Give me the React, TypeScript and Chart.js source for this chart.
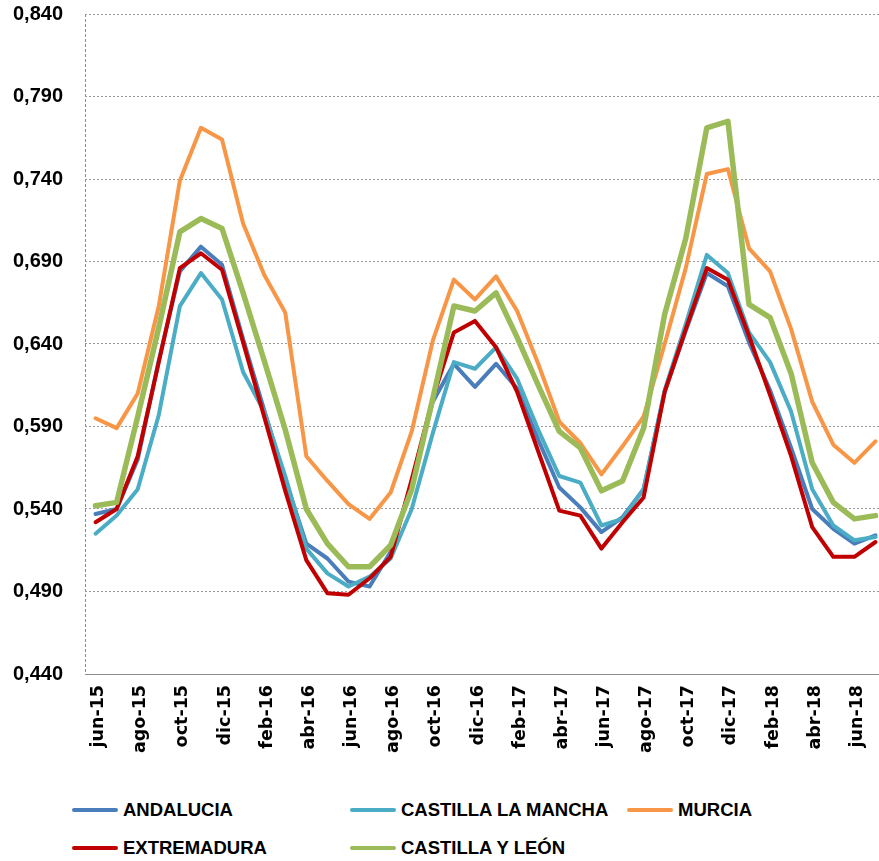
import React, { useEffect, useRef } from 'react';
import { Chart, registerables } from 'chart.js';

Chart.register(...registerables);

// ---- Data ----
const months = [
  'jun-15', 'jul-15', 'ago-15', 'sep-15', 'oct-15', 'nov-15', 'dic-15',
  'ene-16', 'feb-16', 'mar-16', 'abr-16', 'may-16', 'jun-16', 'jul-16', 'ago-16', 'sep-16', 'oct-16', 'nov-16', 'dic-16',
  'ene-17', 'feb-17', 'mar-17', 'abr-17', 'may-17', 'jun-17', 'jul-17', 'ago-17', 'sep-17', 'oct-17', 'nov-17', 'dic-17',
  'ene-18', 'feb-18', 'mar-18', 'abr-18', 'may-18', 'jun-18', 'jul-18',
];

const xTickLabels = [
  'jun-15', 'ago-15', 'oct-15', 'dic-15', 'feb-16', 'abr-16', 'jun-16', 'ago-16', 'oct-16', 'dic-16',
  'feb-17', 'abr-17', 'jun-17', 'ago-17', 'oct-17', 'dic-17', 'feb-18', 'abr-18', 'jun-18',
];

const andalucia = [
  0.537, 0.540, 0.570, 0.630, 0.684, 0.699, 0.688,
  0.643, 0.600, 0.558, 0.519, 0.510, 0.496, 0.493, 0.514, 0.556, 0.605, 0.628, 0.614,
  0.628, 0.613, 0.582, 0.553, 0.541, 0.526, 0.535, 0.552, 0.611, 0.648, 0.683, 0.675,
  0.641, 0.612, 0.577, 0.540, 0.528, 0.519, 0.524,
];

const castillaLaMancha = [
  0.525, 0.536, 0.552, 0.597, 0.663, 0.683, 0.667,
  0.623, 0.599, 0.560, 0.516, 0.501, 0.493, 0.499, 0.510, 0.540, 0.586, 0.629, 0.625,
  0.638, 0.619, 0.588, 0.560, 0.556, 0.530, 0.534, 0.552, 0.612, 0.652, 0.694, 0.683,
  0.647, 0.629, 0.599, 0.552, 0.530, 0.521, 0.523,
];

const murcia = [
  0.595, 0.589, 0.610, 0.663, 0.739, 0.771, 0.764,
  0.713, 0.682, 0.659, 0.572, 0.557, 0.543, 0.534, 0.550, 0.587, 0.642, 0.679, 0.667,
  0.681, 0.660, 0.628, 0.593, 0.580, 0.561, 0.578, 0.596, 0.640, 0.686, 0.743, 0.746,
  0.698, 0.684, 0.649, 0.605, 0.579, 0.568, 0.581,
];

const extremadura = [
  0.532, 0.540, 0.572, 0.629, 0.686, 0.695, 0.685,
  0.641, 0.596, 0.551, 0.509, 0.489, 0.488, 0.498, 0.511, 0.558, 0.607, 0.647, 0.654,
  0.638, 0.611, 0.575, 0.539, 0.536, 0.516, 0.532, 0.547, 0.611, 0.649, 0.686, 0.679,
  0.645, 0.609, 0.572, 0.529, 0.511, 0.511, 0.520,
];

const castillaYLeon = [
  0.542, 0.544, 0.596, 0.650, 0.708, 0.716, 0.710,
  0.671, 0.630, 0.588, 0.540, 0.519, 0.505, 0.505, 0.518, 0.552, 0.607, 0.663, 0.660,
  0.671, 0.644, 0.615, 0.587, 0.577, 0.551, 0.557, 0.589, 0.658, 0.704, 0.771, 0.775,
  0.664, 0.656, 0.622, 0.568, 0.544, 0.534, 0.536,
];

const seriesNames = ['ANDALUCIA', 'CASTILLA LA MANCHA', 'MURCIA', 'EXTREMADURA', 'CASTILLA Y LEÓN'];

const yMin = 0.44;
const yMax = 0.84;
const yStep = 0.05;

// ---- Styles ----
const colors = ['#4a7ebb', '#4bacc6', '#f79646', '#c00000', '#9bbb59'];
const widths = [4, 4, 4, 4, 5.5];
const drawOrder = [4, 3, 2, 1, 0];

const seriesValues = [andalucia, castillaLaMancha, murcia, extremadura, castillaYLeon];

const legendPos = [
  { left: 72, top: 810 },
  { left: 350, top: 810 },
  { left: 627, top: 810 },
  { left: 72, top: 848 },
  { left: 350, top: 848 },
];

export default function App() {
  const ref = useRef<HTMLCanvasElement>(null);

  useEffect(() => {
    const canvas = ref.current;
    if (!canvas) return;
    const chart = new Chart(canvas, {
      type: 'line',
      data: {
        labels: months,
        datasets: seriesNames.map((name, i) => ({
          label: name,
          data: seriesValues[i],
          borderColor: colors[i],
          backgroundColor: colors[i],
          borderWidth: widths[i],
          pointRadius: 0,
          tension: 0,
          fill: false,
          order: drawOrder[i],
          borderCapStyle: 'round',
          borderJoinStyle: 'round',
        })),
      },
      options: {
        responsive: false,
        animation: false,
        events: [],
        layout: { padding: { top: 14, left: 0, right: 0, bottom: 0 } },
        plugins: {
          legend: { display: false },
          tooltip: { enabled: false },
        },
        scales: {
          x: {
            type: 'category',
            offset: true,
            afterFit: (scale: any) => {
              scale.height = 116;
              scale.paddingLeft = 0;
              scale.paddingRight = 0;
            },
            grid: {
              display: true,
              offset: true,
              drawTicks: false,
              lineWidth: 1,
              color: (ctx: any) => (ctx.index === 0 ? '#8c8c8c' : 'rgba(0,0,0,0)'),
            },
            border: { display: true, color: '#8c8c8c', width: 1, dash: [3, 2] },
            ticks: {
              autoSkip: false,
              minRotation: 90,
              maxRotation: 90,
              padding: 11,
              labelOffset: 3,
              color: '#000',
              font: { family: 'DejaVu Sans', weight: 'bold', size: 17.5 },
              callback: (_v: any, i: number) => (xTickLabels.includes(months[i]) ? months[i] : ''),
            },
          },
          y: {
            min: yMin,
            max: yMax,
            afterFit: (scale: any) => {
              scale.width = 85;
              scale.paddingTop = 0;
              scale.paddingBottom = 0;
            },
            grid: {
              display: true,
              drawTicks: false,
              color: '#9a9a9a',
              lineWidth: 1,
            },
            border: { display: false, dash: [2, 2] },
            ticks: {
              stepSize: yStep,
              padding: 22,
              color: '#000',
              font: { family: 'Liberation Sans', weight: 'bold', size: 20 },
              callback: (v: any) => Number(v).toFixed(3).replace('.', ','),
            },
          },
        },
      },
    } as any);
    return () => chart.destroy();
  }, []);

  return (
    <div
      style={{
        position: 'fixed',
        left: 0,
        top: 0,
        width: 879,
        height: 861,
        overflow: 'hidden',
        background: '#fff',
      }}
    >
      <canvas
        ref={ref}
        width={886}
        height={790}
        style={{ position: 'absolute', left: 0, top: 0, width: 886, height: 790, display: 'block' }}
      />
      {seriesNames.map((name, i) => (
        <div
          key={name}
          style={{
            position: 'absolute',
            left: legendPos[i].left,
            top: legendPos[i].top - 12,
            height: 24,
            display: 'flex',
            alignItems: 'center',
            whiteSpace: 'nowrap',
          }}
        >
          <span
            style={{
              display: 'inline-block',
              width: 46,
              height: 4,
              borderRadius: 2,
              background: colors[i],
              marginRight: 5,
            }}
          />
          <span
            style={{
              fontFamily: "'Liberation Sans', Arial, sans-serif",
              fontWeight: 'bold',
              fontSize: 18.5,
              lineHeight: '24px',
              color: '#000',
            }}
          >
            {name}
          </span>
        </div>
      ))}
    </div>
  );
}
